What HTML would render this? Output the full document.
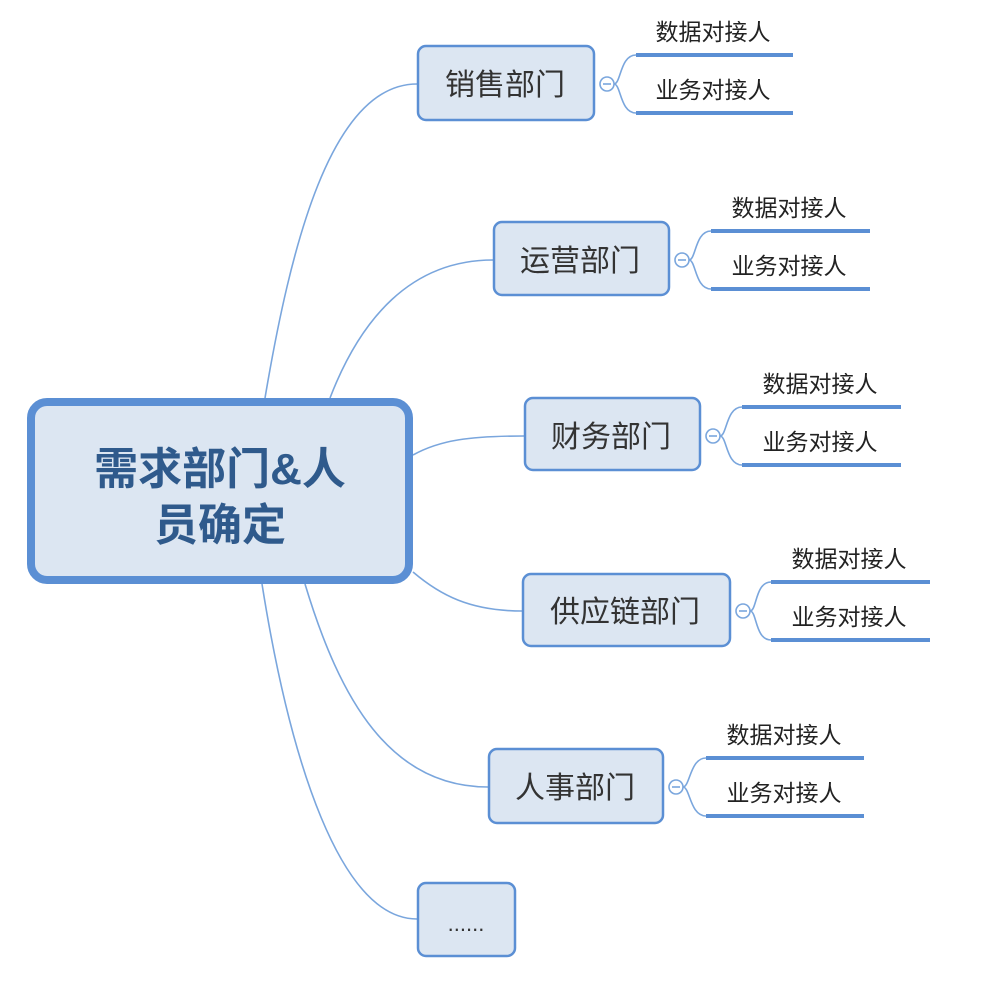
<!DOCTYPE html>
<html><head><meta charset="utf-8"><style>
body{margin:0;background:#fff;}
svg text{font-family:"Liberation Sans","Noto Sans CJK SC",sans-serif;}
</style></head><body>
<svg width="992" height="980" viewBox="0 0 992 980" xmlns="http://www.w3.org/2000/svg">
<g fill="none" stroke="#7aa6dd" stroke-width="1.6">
<path d="M265 398 C290 250, 330 84, 417 84"/>
<path d="M330 398 C360 320, 410 260, 493 260"/>
<path d="M413 455 C440 440, 470 436, 524 436"/>
<path d="M413 572 C440 595, 470 611, 522 611"/>
<path d="M305 584 C340 700, 390 787, 488 787"/>
<path d="M262 584 C290 760, 340 919, 417 919"/>
</g>
<rect x="31" y="402" width="378" height="178" rx="16" fill="#dce6f2" stroke="#5b8fd4" stroke-width="8"/>
<text x="220" y="484" text-anchor="middle" font-size="44" font-weight="bold" fill="#2f5a8c">需求部门&amp;人</text>
<text x="220" y="540" text-anchor="middle" font-size="44" font-weight="bold" fill="#2f5a8c">员确定</text>
<g fill="#dce6f2" stroke="#5b8fd4" stroke-width="2.5">
<rect x="418" y="46" width="176" height="74" rx="8"/>
<rect x="494" y="222" width="175" height="73" rx="8"/>
<rect x="525" y="398" width="175" height="72" rx="8"/>
<rect x="523" y="574" width="207" height="72" rx="8"/>
<rect x="489" y="749" width="174" height="74" rx="8"/>
<rect x="418" y="883" width="97" height="73" rx="8"/>
</g>
<g font-size="30" fill="#333" text-anchor="middle">
<text x="505" y="95">销售部门</text>
<text x="580" y="271">运营部门</text>
<text x="611" y="447">财务部门</text>
<text x="625" y="622">供应链部门</text>
<text x="575" y="798">人事部门</text>
<text x="466" y="931" font-size="22">......</text>
</g>
<g fill="none" stroke="#7aa6dd" stroke-width="1.6">
<circle cx="607" cy="84" r="7" fill="#fff"/><path d="M603 84h8"/>
<path d="M614 84 C621 84, 620 55, 636 55 M614 84 C621 84, 620 113, 636 113"/>
<circle cx="682" cy="260" r="7" fill="#fff"/><path d="M678 260h8"/>
<path d="M689 260 C696 260, 695 231, 711 231 M689 260 C696 260, 695 289, 711 289"/>
<circle cx="713" cy="436" r="7" fill="#fff"/><path d="M709 436h8"/>
<path d="M720 436 C727 436, 726 407, 742 407 M720 436 C727 436, 726 465, 742 465"/>
<circle cx="743" cy="611" r="7" fill="#fff"/><path d="M739 611h8"/>
<path d="M750 611 C757 611, 755 582, 771 582 M750 611 C757 611, 755 640, 771 640"/>
<circle cx="676" cy="787" r="7" fill="#fff"/><path d="M672 787h8"/>
<path d="M683 787 C690 787, 690 758, 706 758 M683 787 C690 787, 690 816, 706 816"/>
</g>
<g stroke="#5b8fd4" stroke-width="4">
<path d="M636 55H793M636 113H793"/>
<path d="M711 231H870M711 289H870"/>
<path d="M742 407H901M742 465H901"/>
<path d="M771 582H930M771 640H930"/>
<path d="M706 758H864M706 816H864"/>
</g>
<g font-size="23" fill="#222" text-anchor="middle">
<text x="713" y="40">数据对接人</text><text x="713" y="98">业务对接人</text>
<text x="789" y="216">数据对接人</text><text x="789" y="274">业务对接人</text>
<text x="820" y="392">数据对接人</text><text x="820" y="450">业务对接人</text>
<text x="849" y="567">数据对接人</text><text x="849" y="625">业务对接人</text>
<text x="784" y="743">数据对接人</text><text x="784" y="801">业务对接人</text>
</g>
</svg>
</body></html>
